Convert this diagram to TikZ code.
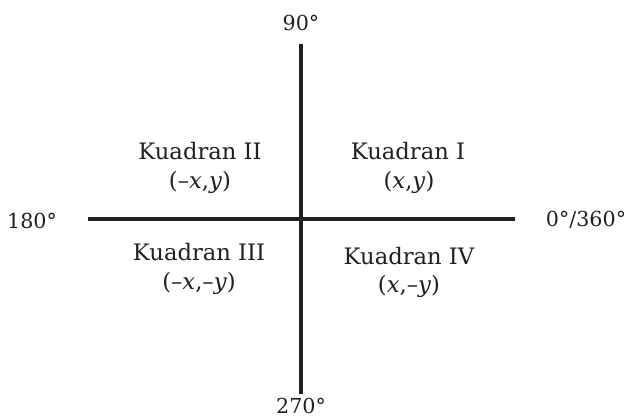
\documentclass[tikz,border=0pt]{standalone}
\usepackage{fontspec}
\setmainfont{DejaVu Serif}
\usepackage{tikz}
\usetikzlibrary{positioning}
\definecolor{axisgray}{RGB}{35,31,32}

\begin{document}
\begin{tikzpicture}[
    x=0.75pt, y=-0.75pt,
    axis/.style={draw=axisgray, line width=2.3pt},
    deg/.style={text=axisgray, font=\fontsize{15.5}{18}\selectfont, inner sep=0pt},
    quad/.style={text=axisgray, font=\fontsize{17}{20}\selectfont, inner sep=0pt, align=center}
]
    \useasboundingbox (0,0) rectangle (631,418);

    % Axes
    \coordinate (west) at (88,219);
    \coordinate (east) at (515,219);
    \coordinate (north) at (301,44);
    \coordinate (south) at (301,394);
    \draw[axis] (west) -- (east);
    \draw[axis] (north) -- (south);

    % Angles
    \node[deg] (a90) at (301,23) {90°};
    \node[deg] (a180) at (32,221) {180°};
    \node[deg] (a360) at (586,220) {0°/360°};
    \node[deg] (a270) at (301,406) {270°};

    % Quadrants
    \node[quad] (q2) at (200,151) {Kuadran II};
    \node[quad] (p2) at (200,182) {(–\textit{x},\textit{y})};
    \node[quad] (q1) at (408,151) {Kuadran I};
    \node[quad] (p1) at (409,182) {(\textit{x},\textit{y})};
    \node[quad] (q3) at (199,252) {Kuadran III};
    \node[quad] (p3) at (199,283) {(–\textit{x},–\textit{y})};
    \node[quad] (q4) at (409,256) {Kuadran IV};
    \node[quad] (p4) at (409,286) {(\textit{x},–\textit{y})};
\end{tikzpicture}
\end{document}
